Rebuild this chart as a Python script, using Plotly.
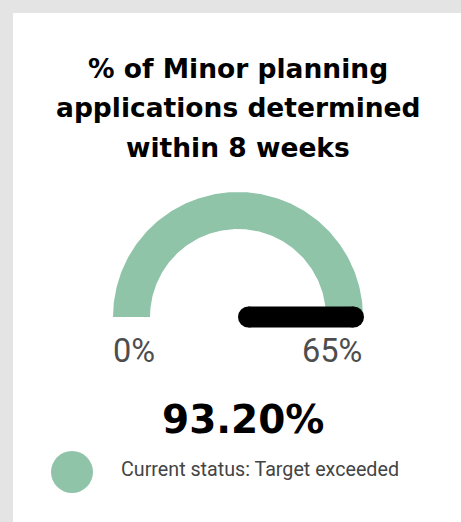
import numpy as np
import plotly.graph_objects as go

# ---- data ----
title_lines = ["% of Minor planning", "applications determined", "within 8 weeks"]
gauge_min = 0
gauge_max = 65
value = 93.20
status_label = "Current status: Target exceeded"
min_label = "0%"
max_label = "65%"

# ---- style / geometry ----
W, H = 461, 522
BG = "#e4e4e4"
CARD = "#ffffff"
GREEN = "#8fc4a9"
cx, cy = 238, 317
R_OUT, R_IN = 125, 88
NEEDLE_W = 21
NEEDLE_LEN = 126

frac = min(max((value - gauge_min) / (gauge_max - gauge_min), 0), 1)
theta_end = np.pi * (1 - frac)

fig = go.Figure()

# arc (filled part)
t = np.linspace(np.pi, theta_end, 200)
xo = cx + R_OUT * np.cos(t)
yo = cy - R_OUT * np.sin(t)
xi = cx + R_IN * np.cos(t[::-1])
yi = cy - R_IN * np.sin(t[::-1])
fig.add_trace(go.Scatter(
    x=np.concatenate([xo, xi, xo[:1]]), y=np.concatenate([yo, yi, yo[:1]]),
    mode="lines", fill="toself", fillcolor=GREEN, line=dict(width=0, color=GREEN),
    hoverinfo="skip", showlegend=False))

# needle
ux, uy = np.cos(theta_end), -np.sin(theta_end)
r = NEEDLE_W / 2
nx = [cx + r * ux, cx + (NEEDLE_LEN - r) * ux]
ny = [cy + r * uy, cy + (NEEDLE_LEN - r) * uy]
fig.add_trace(go.Scatter(
    x=nx, y=ny, mode="lines+markers",
    line=dict(width=NEEDLE_W, color="#000000"),
    marker=dict(size=NEEDLE_W, color="#000000", line=dict(width=0)),
    hoverinfo="skip", showlegend=False))

# legend dot
fig.add_trace(go.Scatter(
    x=[72], y=[472], mode="markers",
    marker=dict(size=42, color=GREEN, line=dict(width=0)),
    hoverinfo="skip", showlegend=False))

ann = []
for i, line in enumerate(title_lines):
    ann.append(dict(x=238, y=68 + 39.5 * i, xref="x", yref="y", text="<b>%s</b>" % line,
                    showarrow=False, xanchor="center", yanchor="middle",
                    font=dict(family="DejaVu Sans", size=26.5, color="#000000")))
ann.append(dict(x=cx - R_OUT - 2, y=351, xref="x", yref="y", text=min_label, showarrow=False,
                xanchor="left", yanchor="middle",
                font=dict(family="Roboto", size=32.5, color="#4d4d4d")))
ann.append(dict(x=cx + R_OUT + 1, y=351, xref="x", yref="y", text=max_label, showarrow=False,
                xanchor="right", yanchor="middle",
                font=dict(family="Roboto", size=32.5, color="#4d4d4d")))
ann.append(dict(x=243, y=419.5, xref="x", yref="y", text="<b>%.2f%%</b>" % value, showarrow=False,
                xanchor="center", yanchor="middle",
                font=dict(family="DejaVu Sans", size=39, color="#000000")))
ann.append(dict(x=119, y=469.5, xref="x", yref="y", text=status_label, showarrow=False,
                xanchor="left", yanchor="middle",
                font=dict(family="Roboto", size=19.7, color="#444444")))

fig.update_layout(
    width=W, height=H, margin=dict(l=0, r=0, t=0, b=0),
    paper_bgcolor=BG, plot_bgcolor=BG,
    xaxis=dict(range=[0, W], visible=False, fixedrange=True),
    yaxis=dict(range=[H, 0], visible=False, fixedrange=True),
    shapes=[dict(type="rect", xref="x", yref="y", x0=13, x1=461, y0=13, y1=522,
                 fillcolor=CARD, line=dict(width=0), layer="below")],
    annotations=ann,
)

fig.write_html("out.html", config={"displayModeBar": False},
               post_script="document.body.style.margin='0';document.body.style.overflow='hidden';")
